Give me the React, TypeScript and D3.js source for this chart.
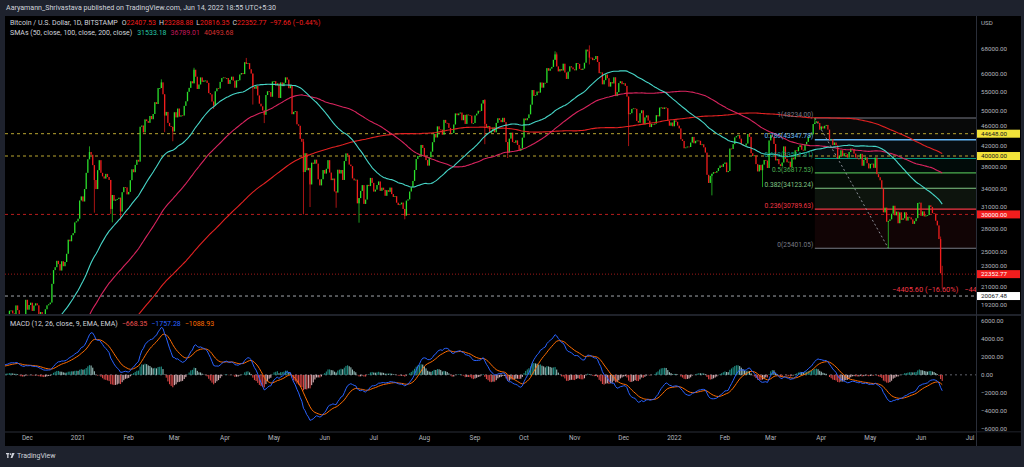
import * as d3 from 'd3'

const W = 1024
const H = 467
const DAY = 86400000

// BTCUSD (Bitstamp) daily closes in thousands of USD, one per day from closeStart
const closeStart = Date.UTC(2020, 6, 1)
const closes = [
  // 2020 Jul
  9.23, 9.09, 9.06, 9.13, 9.07, 9.34, 9.25, 9.43, 9.23, 9.28, 9.24, 9.30, 9.24, 9.25, 9.19, 9.13, 9.15, 9.17, 9.21, 9.16, 9.39, 9.52, 9.58, 9.54, 9.70, 9.93, 11.03, 10.91, 11.10, 11.11, 11.35,
  // Aug
  11.80, 11.07, 11.22, 11.19, 11.75, 11.77, 11.60, 11.75, 11.68, 11.88, 11.41, 11.58, 11.78, 11.77, 11.87, 11.91, 12.25, 11.99, 11.76, 11.87, 11.52, 11.68, 11.66, 11.77, 11.35, 11.47, 11.32, 11.54, 11.51, 11.68, 11.68,
  // Sep
  11.97, 11.41, 10.24, 10.51, 10.17, 10.28, 10.37, 10.13, 10.24, 10.36, 10.40, 10.44, 10.33, 10.68, 10.79, 10.95, 10.95, 10.93, 11.09, 10.92, 10.42, 10.54, 10.24, 10.74, 10.69, 10.73, 10.77, 10.70, 10.84, 10.78,
  // Oct
  10.62, 10.57, 10.55, 10.67, 10.79, 10.60, 10.67, 10.92, 11.06, 11.30, 11.38, 11.55, 11.43, 11.43, 11.50, 11.32, 11.36, 11.48, 11.75, 11.92, 12.82, 12.99, 12.94, 13.13, 13.03, 13.07, 13.65, 13.27, 13.46, 13.56, 13.80,
  // Nov
  13.74, 13.55, 14.03, 14.16, 15.59, 15.58, 14.83, 15.48, 15.33, 15.30, 15.70, 16.28, 16.32, 16.07, 15.97, 16.72, 17.65, 17.78, 17.82, 18.67, 18.69, 18.42, 18.36, 19.16, 18.72, 17.15, 17.14, 17.72, 18.18, 19.70,
  // Dec
  18.76, 19.20, 19.42, 18.65, 19.15, 19.36, 19.17, 18.32, 18.55, 18.26, 18.04, 18.80, 19.17, 19.27, 19.43, 21.31, 22.80, 23.13, 23.87, 23.48, 22.75, 23.82, 23.24, 23.73, 24.71, 26.49, 26.28, 27.08, 27.36, 28.84, 29.00,
  // 2021 Jan
  29.37, 32.13, 32.78, 31.97, 33.99, 36.82, 39.37, 40.80, 40.25, 38.24, 35.54, 33.99, 37.31, 39.19, 36.82, 36.18, 35.79, 36.63, 36.07, 35.55, 30.82, 33.01, 32.09, 32.28, 32.37, 32.57, 30.43, 33.47, 34.32, 34.27, 33.11,
  // Feb
  33.52, 35.51, 37.47, 36.93, 38.29, 39.26, 38.90, 46.20, 46.48, 44.92, 47.91, 47.50, 47.10, 48.72, 47.95, 49.20, 52.15, 51.68, 55.89, 55.92, 57.49, 54.21, 48.82, 49.71, 47.09, 46.34, 46.19, 45.14,
  // Mar
  49.63, 48.38, 50.54, 48.56, 48.88, 48.82, 51.21, 52.38, 54.88, 55.96, 57.81, 57.23, 61.19, 59.12, 55.66, 56.90, 58.91, 57.65, 58.03, 58.03, 57.35, 54.53, 54.20, 52.30, 51.32, 55.03, 55.85, 55.78, 57.63, 58.73, 58.92,
  // Apr
  58.72, 58.72, 57.06, 58.20, 59.13, 57.99, 56.00, 58.09, 58.09, 59.77, 60.20, 59.89, 63.50, 62.97, 63.19, 61.34, 60.04, 56.22, 55.72, 56.47, 53.91, 51.76, 51.09, 50.05, 49.00, 54.02, 55.03, 54.82, 53.56, 57.75,
  // May
  57.83, 56.63, 57.21, 53.24, 57.47, 56.43, 57.38, 58.93, 58.28, 55.86, 56.70, 49.15, 49.72, 49.88, 46.76, 46.43, 43.54, 42.91, 36.96, 40.56, 37.29, 37.72, 34.77, 38.71, 38.49, 39.29, 38.53, 35.66, 34.61, 35.68, 37.33,
  // Jun
  36.68, 37.56, 39.19, 36.87, 35.52, 35.80, 33.59, 33.41, 37.39, 36.69, 37.34, 35.55, 39.02, 40.52, 40.14, 38.35, 38.05, 35.82, 35.48, 35.60, 31.68, 32.51, 33.68, 34.66, 31.59, 32.28, 34.70, 34.49, 35.91, 35.04,
  // Jul
  33.57, 33.90, 34.67, 35.29, 33.69, 34.22, 33.86, 32.88, 33.81, 33.52, 34.24, 33.16, 32.70, 32.82, 31.78, 31.42, 31.53, 31.80, 30.82, 29.81, 32.11, 32.31, 33.58, 34.29, 35.38, 37.34, 39.41, 39.99, 40.02, 42.24, 41.63,
  // Aug
  39.97, 39.20, 38.15, 39.74, 40.87, 42.82, 44.61, 43.83, 46.29, 45.59, 45.55, 44.43, 47.79, 47.10, 47.02, 45.94, 44.70, 44.80, 46.72, 49.34, 48.91, 49.32, 49.55, 47.71, 48.99, 46.85, 49.07, 48.90, 48.81, 46.98, 47.05,
  // Sep
  48.85, 49.29, 49.99, 49.94, 51.79, 52.70, 46.86, 46.08, 46.37, 44.85, 45.16, 46.06, 44.96, 47.09, 48.18, 47.78, 47.26, 48.28, 47.26, 42.84, 40.69, 43.58, 44.88, 42.84, 42.72, 43.21, 42.24, 41.03, 41.52, 43.79,
  // Oct
  48.12, 47.71, 48.20, 49.11, 51.51, 55.36, 53.81, 53.97, 54.95, 54.66, 57.47, 56.01, 57.37, 57.35, 61.67, 60.88, 61.53, 62.04, 64.26, 65.99, 62.21, 60.69, 61.39, 60.93, 63.04, 60.36, 58.48, 60.62, 62.23, 61.89, 61.32,
  // Nov
  61.00, 63.23, 62.97, 61.45, 61.13, 61.53, 63.33, 67.57, 66.97, 64.95, 64.93, 64.16, 64.47, 65.47, 63.56, 60.16, 60.37, 56.94, 58.12, 59.76, 58.68, 56.30, 57.57, 57.19, 58.96, 53.73, 54.79, 57.29, 57.81, 56.99,
  // Dec
  57.23, 56.51, 53.60, 49.15, 49.40, 50.44, 50.59, 50.47, 47.55, 47.14, 49.39, 50.10, 46.74, 48.38, 48.86, 47.63, 46.13, 46.83, 46.68, 46.92, 48.92, 48.63, 50.78, 50.82, 50.43, 50.81, 50.64, 47.59, 46.44, 47.18, 46.31,
  // 2022 Jan
  47.69, 47.34, 46.46, 45.83, 43.44, 43.08, 41.56, 41.73, 41.91, 41.82, 42.74, 43.95, 42.59, 43.10, 43.18, 43.11, 42.25, 42.37, 41.74, 40.68, 36.46, 35.03, 36.28, 36.65, 36.95, 36.85, 37.14, 37.71, 38.17, 37.92, 38.48,
  // Feb
  38.74, 36.95, 37.15, 41.50, 41.41, 42.41, 43.84, 44.11, 44.34, 43.57, 42.41, 42.20, 42.09, 42.54, 44.58, 43.96, 40.55, 40.00, 40.12, 38.43, 37.07, 38.29, 37.30, 38.33, 39.21, 39.11, 37.70, 43.19,
  // Mar
  44.42, 43.92, 42.45, 39.14, 39.40, 38.42, 38.06, 38.74, 41.94, 39.44, 38.79, 38.90, 37.85, 39.67, 39.34, 41.14, 40.95, 41.80, 42.19, 41.25, 41.08, 42.36, 42.89, 43.96, 44.35, 44.50, 46.82, 47.13, 47.45, 47.06, 45.54,
  // Apr
  46.28, 45.81, 46.41, 46.62, 45.56, 43.21, 43.44, 42.25, 42.75, 42.16, 39.53, 40.07, 41.15, 39.94, 40.55, 40.38, 39.68, 40.80, 41.50, 41.36, 40.48, 39.71, 39.47, 39.45, 40.43, 38.12, 39.24, 39.74, 38.60, 37.63,
  // May
  38.47, 38.53, 37.73, 39.70, 36.58, 36.04, 35.50, 34.06, 30.30, 31.02, 28.94, 29.05, 29.28, 30.10, 31.31, 29.86, 30.42, 28.72, 30.31, 29.20, 29.43, 30.32, 29.10, 29.65, 29.56, 29.27, 28.63, 29.02, 29.45, 31.73, 31.79,
  // Jun
  29.80, 30.45, 29.70, 29.86, 29.91, 31.37, 31.13, 30.20, 30.11, 29.08, 28.42, 26.57, 22.45, 22.35,
]

// wicks that stand out in the picture (thousands of USD)
const wicks: { d: string; o?: number; h?: number; l?: number }[] = [
  { d: '2021-01-08', h: 41.95 },
  { d: '2021-01-11', l: 30.26 },
  { d: '2021-01-21', l: 30.07 },
  { d: '2021-01-22', l: 28.85 },
  { d: '2021-01-27', l: 29.24 },
  { d: '2021-02-21', h: 58.35 },
  { d: '2021-02-23', l: 45.0 },
  { d: '2021-02-28', l: 43.02 },
  { d: '2021-03-13', h: 61.78 },
  { d: '2021-03-25', l: 50.43 },
  { d: '2021-04-14', h: 64.85 },
  { d: '2021-04-18', l: 51.54 },
  { d: '2021-04-25', l: 47.04 },
  { d: '2021-05-19', h: 43.5, l: 30.0 },
  { d: '2021-05-23', l: 31.11 },
  { d: '2021-06-08', l: 31.0 },
  { d: '2021-06-22', l: 28.8 },
  { d: '2021-07-20', l: 29.28 },
  { d: '2021-09-07', h: 52.92, l: 42.4 },
  { d: '2021-09-21', l: 39.6 },
  { d: '2021-10-20', h: 67.0 },
  { d: '2021-10-21', h: 66.64 },
  { d: '2021-11-10', h: 69.0, l: 62.8 },
  { d: '2021-12-04', l: 42.0 },
  { d: '2022-01-24', l: 32.95 },
  { d: '2022-02-24', l: 34.32 },
  { d: '2022-03-28', h: 48.234 },
  { d: '2022-05-12', l: 25.401 },
  { d: '2022-06-13', h: 26.9, l: 22.6 },
  { d: '2022-06-14', o: 22.40753, h: 23.28888, l: 20.81635 },
]

const priceTicks = [68000, 60000, 55000, 50000, 46000, 42000, 38000, 34000, 31000, 28000, 25000, 23000, 21000, 19200]
const macdTicks = [6000, 4000, 2000, 0, -2000, -4000, -6000]
const monthLabels = ['Dec', '2021', 'Feb', 'Mar', 'Apr', 'May', 'Jun', 'Jul', 'Aug', 'Sep', 'Oct', 'Nov', 'Dec', '2022', 'Feb', 'Mar', 'Apr', 'May', 'Jun', 'Jul']

// horizontal lines drawn on the chart
const levelValues = [44648, 40000, 30000, 20067.48]
const lastPrice = 22352.77

// fib retracement, Mar 28 high to May 12 low
const fibFrom = '2022-03-28'
const fibTo = '2022-05-12'
const fibRatios = [1, 0.786, 0.618, 0.5, 0.382, 0.236, 0]
const fibValues = [48234.0, 43347.78, 39511.81, 36817.53, 34123.24, 30789.63, 25401.05]

const FONT = 'Roboto, "Noto Sans", sans-serif'
const UP = '#2be02b'
const DOWN = '#f21d1d'
const fibColors = ['#787b86', '#64b5f6', '#089981', '#4caf50', '#81c784', '#f23645', '#787b86']
const levelStyle = [
  { line: '#b9a630', bg: '#f2e33a', fg: '#131722' },
  { line: '#b9a630', bg: '#f2e33a', fg: '#131722' },
  { line: '#b71c1c', bg: '#f21d1d', fg: '#ffffff' },
  { line: '#a3a6ad', bg: '#ffffff', fg: '#131722' },
]

const L = 5
const R = 976
const PT = 16
const PB = 314
const MT = 316
const MB = 431
const AB = 446

const x = d3.scaleUtc().domain([new Date(Date.UTC(2020, 11, 1)), new Date(Date.UTC(2022, 6, 1))]).range([27.4, 970])
const y = d3.scaleLog().domain([19200, 68000]).range([305, 48.3])
const ym = d3.scaleLinear().domain([-6000, 6000]).range([429, 320.7])

const dayKey = (t: number) => new Date(t).toISOString().slice(0, 10)
const wickMap = new Map(wicks.map(w => [w.d, w]))

const bars = closes.map((c, i) => {
  const t = closeStart + i * DAY
  const w = wickMap.get(dayKey(t))
  const o = (w && w.o !== undefined ? w.o : i === 0 ? c : closes[i - 1]) * 1000
  const cl = c * 1000
  const h = w && w.h !== undefined ? w.h * 1000 : Math.max(o, cl)
  const l = w && w.l !== undefined ? w.l * 1000 : Math.min(o, cl)
  return { t, x: x(new Date(t)), o, c: i === closes.length - 1 ? lastPrice : cl, h, l }
})

const closeUsd = bars.map(b => b.c)

function sma(vals: number[], n: number) {
  return vals.map((_, i) => (i < n - 1 ? null : (d3.mean(vals.slice(i - n + 1, i + 1)) as number)))
}
function ema(vals: number[], n: number) {
  const k = 2 / (n + 1)
  let prev = vals[0]
  return vals.map((v, i) => (prev = i === 0 ? v : v * k + prev * (1 - k)))
}

const sma50 = sma(closeUsd, 50)
const sma100 = sma(closeUsd, 100)
const sma200 = sma(closeUsd, 200)
const ema12 = ema(closeUsd, 12)
const ema26 = ema(closeUsd, 26)
const macd = ema12.map((v, i) => v - ema26[i])
const signal = ema(macd, 9)
const hist = macd.map((v, i) => v - signal[i])

const visible = bars.map((b, i) => ({ ...b, i })).filter(b => b.x > L - 2 && b.x < R)

function smaPath(vals: (number | null)[]) {
  return d3
    .line<{ x: number; i: number }>()
    .defined(d => vals[d.i] !== null)
    .x(d => d.x)
    .y(d => y(vals[d.i] as number))(visible) || ''
}
const macdLine = (vals: number[]) =>
  d3
    .line<{ x: number; i: number }>()
    .x(d => d.x)
    .y(d => ym(vals[d.i]))(visible) || ''

function histColor(i: number) {
  const v = hist[i]
  const p = hist[i - 1]
  if (v >= 0) return v > p ? '#26a69a' : '#b2dfdb'
  return v > p ? '#ffcdd2' : '#ff5252'
}

const fmt = (v: number) => (v < 0 ? '\u2212' : '') + Math.abs(v).toFixed(2)

// axis tick sitting just above a price tag gets nudged up so both stay readable
const tagYs = [...levelValues, lastPrice].map(v => y(v))
function tickBaseline(v: number) {
  const ty = y(v)
  const near = tagYs.find(t => t > ty && t - ty < 8)
  return near !== undefined ? near - 5.8 : ty + 2.2
}

export default function App() {
  const fx0 = x(new Date(fibFrom))
  const fx1 = x(new Date(fibTo))
  const months = d3.utcMonth.range(new Date(Date.UTC(2020, 11, 1)), new Date(Date.UTC(2022, 6, 2)))
  const axisText = '#b2b5be'
  const tagH = 8

  return (
    <svg width={W} height={H} style={{ position: 'fixed', left: 0, top: 0 }} fontFamily={FONT}>
      <defs>
        <clipPath id="pp">
          <rect x={L} y={PT} width={R - L} height={PB - PT} />
        </clipPath>
        <clipPath id="mp">
          <rect x={L} y={MT} width={R - L} height={MB - MT} />
        </clipPath>
      </defs>
      <rect width={W} height={H} fill="#1e222d" />
      <rect x={L} y={PT} width={1021 - L} height={AB - PT} fill="#000" />

      <text x={6} y={9.5} fontSize={7.1} fill="#d1d4dc">
        Aaryamann_Shrivastava published on TradingView.com, Jun 14, 2022 18:55 UTC+5:30
      </text>

      {/* price pane */}
      <g clipPath="url(#pp)">
        {/* fib zones */}
        {fibValues.slice(1).map((v, k) => (
          <rect
            key={'fz' + k}
            x={fx0}
            width={R - fx0}
            y={y(fibValues[k])}
            height={y(v) - y(fibValues[k])}
            fill={fibColors[k]}
            opacity={k === 4 ? 0.1 : 0.07}
          />
        ))}
        {levelValues.map((v, k) => (
          <line key={'lv' + k} x1={L} x2={R} y1={y(v)} y2={y(v)} stroke={levelStyle[k].line} strokeWidth={1} strokeDasharray="3,3" />
        ))}
        <line x1={L} x2={R} y1={y(lastPrice)} y2={y(lastPrice)} stroke="#a01818" strokeWidth={1} strokeDasharray="1,2" />

        {fibValues.map((v, k) => (
          <line key={'fl' + k} x1={fx0} x2={R} y1={y(v)} y2={y(v)} stroke={fibColors[k]} strokeWidth={k === 1 ? 1.4 : 1.1} />
        ))}
        <line x1={fx0} y1={y(fibValues[0])} x2={fx1} y2={y(fibValues[6])} stroke="#8a8d96" strokeWidth={1} strokeDasharray="2,2.5" />

        {visible.map(b => {
          const col = b.c >= b.o ? UP : DOWN
          const top = y(Math.max(b.o, b.c))
          const bot = y(Math.min(b.o, b.c))
          return (
            <g key={b.i}>
              {b.h > Math.max(b.o, b.c) || b.l < Math.min(b.o, b.c) ? (
                <line x1={b.x} x2={b.x} y1={y(b.h)} y2={y(b.l)} stroke={col} strokeWidth={0.7} />
              ) : null}
              <rect x={b.x - 0.65} width={1.3} y={top} height={Math.max(0.8, bot - top)} fill={col} />
            </g>
          )
        })}

        <path d={smaPath(sma200)} fill="none" stroke="#e32222" strokeWidth={1.1} />
        <path d={smaPath(sma100)} fill="none" stroke="#d8245e" strokeWidth={1.1} />
        <path d={smaPath(sma50)} fill="none" stroke="#47d6c8" strokeWidth={1.1} />

        {fibValues.map((v, k) => (
          <text key={'ft' + k} x={fx0 - 1.5} y={y(v) - 1.2} fontSize={6.6} textAnchor="end" fill={fibColors[k]}>
            {`${fibRatios[k]}(${v.toFixed(2)})`}
          </text>
        ))}
        <text x={892} y={292} fontSize={7.4} fill="#f23645">
          {'\u22124405.60 (\u221216.60%)'}
          <tspan dx={6}>{'\u221244'}</tspan>
        </text>
      </g>

      {/* legends */}
      <text x={10} y={25} fontSize={7} fill="#d1d4dc">
        Bitcoin / U.S. Dollar, 1D, BITSTAMP
        <tspan dx={4}>O</tspan>
        <tspan fill={DOWN}>22407.53</tspan>
        <tspan dx={3}>H</tspan>
        <tspan fill={DOWN}>23288.88</tspan>
        <tspan dx={3}>L</tspan>
        <tspan fill={DOWN}>20816.35</tspan>
        <tspan dx={3}>C</tspan>
        <tspan fill={DOWN}>22352.77</tspan>
        <tspan dx={3} fill={DOWN}>{'\u221297.66 (\u22120.44%)'}</tspan>
      </text>
      <text x={10} y={35} fontSize={7} fill="#d1d4dc">
        SMAs (50, close, 100, close, 200, close)
        <tspan dx={5} fill="#26c6a6">31533.18</tspan>
        <tspan dx={4} fill="#c2185b">36789.01</tspan>
        <tspan dx={4} fill="#d32f2f">40493.68</tspan>
      </text>

      {/* macd pane */}
      <g clipPath="url(#mp)">
        <line x1={L} x2={R} y1={ym(0)} y2={ym(0)} stroke="#787b86" strokeWidth={0.8} strokeDasharray="2,3" />
        {visible.map(b => (
          <rect
            key={'h' + b.i}
            x={b.x - 0.55}
            width={1.1}
            y={Math.min(ym(0), ym(hist[b.i]))}
            height={Math.abs(ym(hist[b.i]) - ym(0))}
            fill={histColor(b.i)}
            opacity={0.85}
          />
        ))}
        <path d={macdLine(signal)} fill="none" stroke="#ff6d00" strokeWidth={1} />
        <path d={macdLine(macd)} fill="none" stroke="#2962ff" strokeWidth={1} />
      </g>
      <text x={10} y={326} fontSize={7} fill="#d1d4dc">
        MACD (12, 26, close, 9, EMA, EMA)
        <tspan dx={4} fill="#ef5350">{'\u2212668.35'}</tspan>
        <tspan dx={4} fill="#2962ff">{'\u22121757.28'}</tspan>
        <tspan dx={4} fill="#ff6d00">{'\u22121088.93'}</tspan>
      </text>

      {/* separators */}
      <line x1={L} x2={1021} y1={315} y2={315} stroke="#2a2e39" strokeWidth={1.5} />
      <line x1={L} x2={1021} y1={MB + 1} y2={MB + 1} stroke="#2a2e39" strokeWidth={1} />
      <line x1={R + 0.5} x2={R + 0.5} y1={PT} y2={AB} stroke="#2a2e39" strokeWidth={1} />

      {/* right price axis */}
      <text x={981} y={25} fontSize={6.2} fill={axisText}>USD</text>
      {priceTicks.map(v => (
        <text key={v} x={981} y={tickBaseline(v)} fontSize={6.2} fill={axisText}>
          {v.toFixed(2)}
        </text>
      ))}
      {levelValues.map((v, k) => (
        <g key={'tag' + k}>
          <rect x={R + 1} y={y(v) - tagH / 2} width={43} height={tagH} fill={levelStyle[k].bg} />
          <text x={981} y={y(v) + 2.2} fontSize={6.2} fill={levelStyle[k].fg}>
            {v.toFixed(2)}
          </text>
        </g>
      ))}
      <rect x={R + 1} y={y(lastPrice) - tagH / 2} width={43} height={tagH} fill="#f21d1d" />
      <text x={981} y={y(lastPrice) + 2.2} fontSize={6.2} fill="#ffffff">
        {lastPrice.toFixed(2)}
      </text>

      {/* macd axis */}
      {macdTicks.map(v => (
        <text key={'m' + v} x={981} y={Math.min(ym(v) + 2.2, 432.5)} fontSize={6.2} fill={axisText}>
          {fmt(v)}
        </text>
      ))}
      <rect x={977} y={MB + 1.5} width={44} height={AB - MB - 1.5} fill="#000" />

      {/* time axis */}
      {months.map((m, k) => (
        <text key={'mo' + k} x={x(m)} y={440} fontSize={6.4} textAnchor="middle" fill={axisText}>
          {monthLabels[k]}
        </text>
      ))}

      {/* footer */}
      <g transform="translate(6,453)" fill="#d1d4dc">
        <rect x={0} y={0} width={3.2} height={1.3} />
        <rect x={1.2} y={0} width={1.3} height={5} />
        <circle cx={4.6} cy={1.1} r={0.9} />
        <path d="M6.2,0 L8.6,0 L6.4,5 L4.6,5 Z" />
        <text x={11} y={5} fontSize={7} fill="#d1d4dc">TradingView</text>
      </g>
    </svg>
  )
}
